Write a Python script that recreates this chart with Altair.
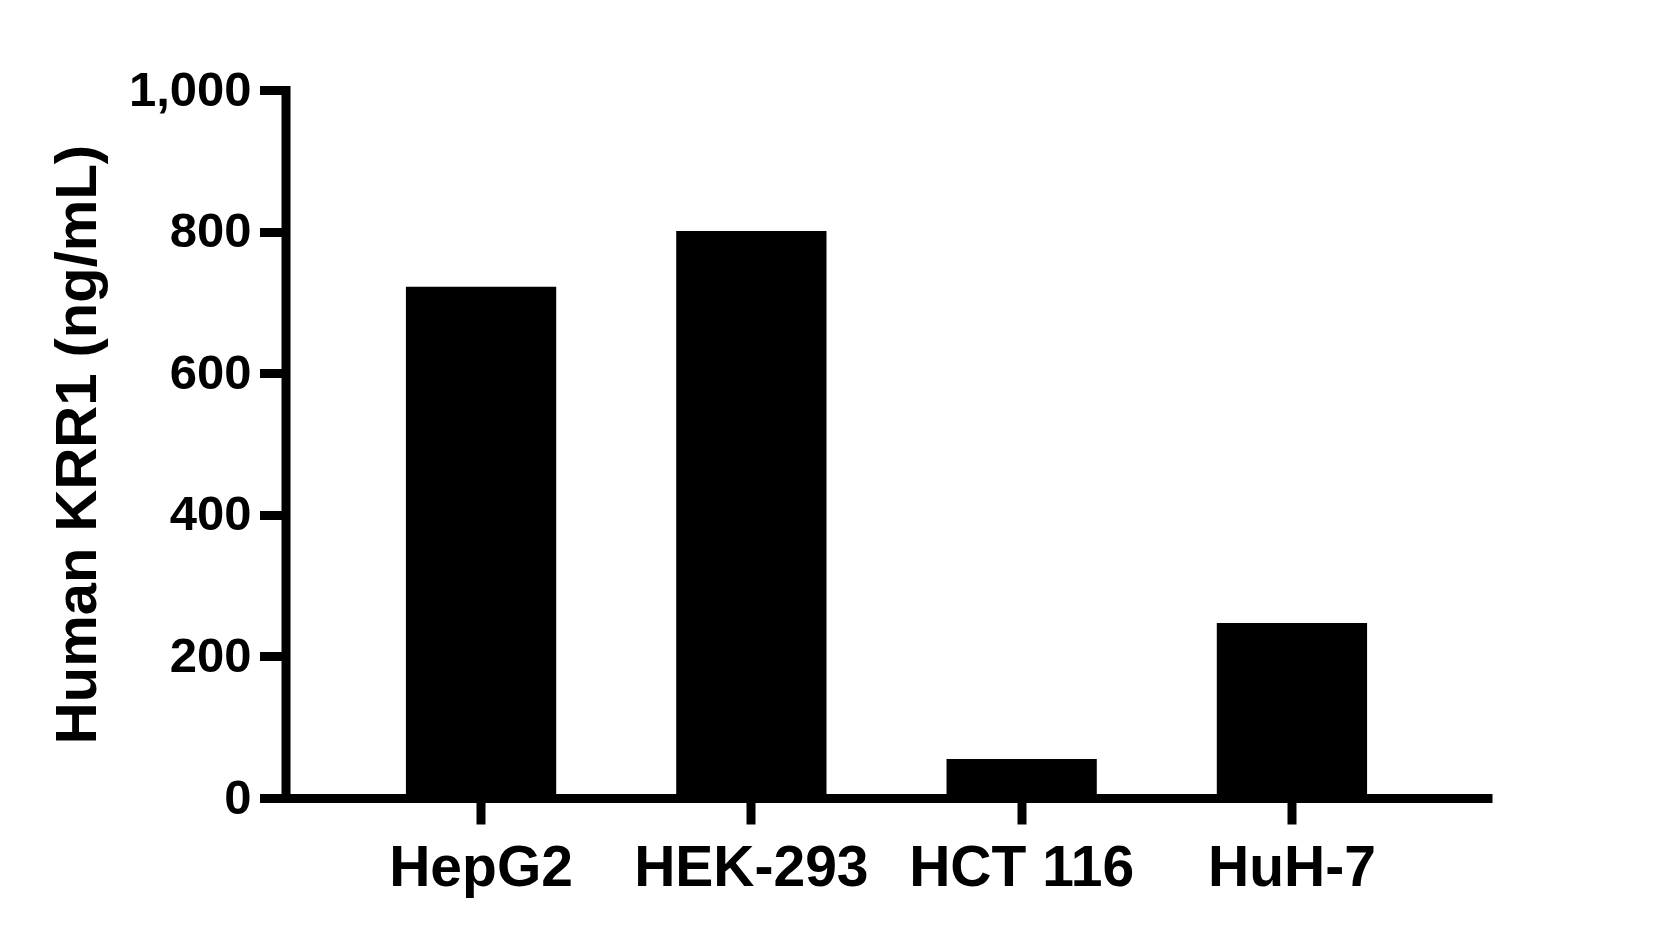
import altair as alt
import pandas as pd

cell_lines = ["HepG2", "HEK-293", "HCT 116", "HuH-7"]
krr1_values = [722, 801, 55, 247]
y_ticks = [0, 200, 400, 600, 800, 1000]

df = pd.DataFrame({"cell": cell_lines, "value": krr1_values})

FONT = "Liberation Sans"

chart = alt.Chart(df).mark_bar(color="black").encode(
    x=alt.X(
        "cell:N",
        sort=cell_lines,
        title=None,
        scale=alt.Scale(paddingInner=0.444, paddingOuter=0.4455),
        axis=alt.Axis(
            labelAngle=0,
            labelFont=FONT,
            labelFontSize=57,
            labelFontWeight="bold",
            labelColor="black",
            labelBaseline="alphabetic",
            labelPadding=61,
            labelLimit=1000,
            tickSize=26,
            tickWidth=9,
            tickColor="black",
            domainColor="black",
            domainWidth=9,
            domainCap="square",
            grid=False,
        ),
    ),
    y=alt.Y(
        "value:Q",
        title="Human KRR1 (ng/mL)",
        scale=alt.Scale(domain=[0, 1000], nice=False),
        axis=alt.Axis(
            values=y_ticks,
            format=",.0f",
            labelFont=FONT,
            labelFontSize=49,
            labelFontWeight="bold",
            labelColor="black",
            labelPadding=8.5,
            labelLimit=1000,
            tickSize=26,
            tickWidth=9,
            tickColor="black",
            domainColor="black",
            domainWidth=9,
            domainCap="square",
            grid=False,
            titleFont=FONT,
            titleFontSize=58,
            titleFontWeight="bold",
            titleColor="black",
            titleAngle=270,
            titleAlign="center",
            titleBaseline="alphabetic",
            titleX=-190.5,
            titleY=354,
        ),
    ),
).properties(
    width=1202,
    height=708,
    background="white",
    autosize=alt.AutoSizeParams(type="none"),
    padding={"left": 277.5, "top": 82, "right": 170, "bottom": 130},
).configure_view(stroke="transparent", strokeWidth=0)

chart.save("out.html", embed_options={"renderer": "svg", "actions": False})
